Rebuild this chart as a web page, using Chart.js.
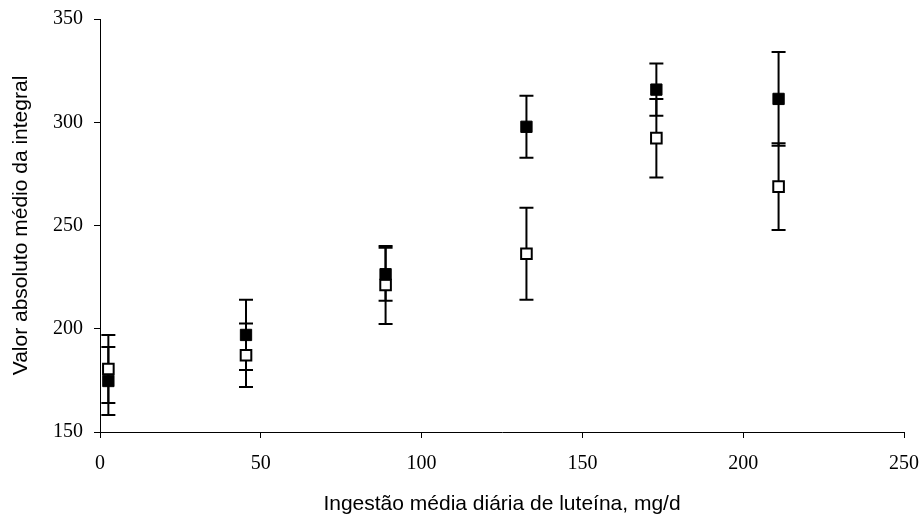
<!DOCTYPE html>
<html lang="pt">
<head>
    <meta charset="UTF-8">
    <title>Luteína - valor absoluto médio da integral</title>
    <script src="https://cdn.jsdelivr.net/npm/chart.js"></script>
    <style>
        body { margin: 0; background: #fff; }
        .wrap { width: 922px; height: 520px; }
    </style>
</head>
<body>
<div class="wrap"><canvas id="grafico" width="922" height="520"></canvas></div>

<script>
    // ingestão média diária (mg/d)
    const ingestao = [2.6, 45.4, 88.8, 132.6, 173, 211];

    // série com quadrados cheios
    const mediaCheio = [174.7, 197, 226.4, 297.8, 315.8, 311.3];
    const erroCheio  = [16.5, 17, 12.8, 15, 12.6, 22.7];

    // série com quadrados vazios
    const mediaVazio = [180.5, 187.2, 221.2, 236.3, 292.3, 268.8];
    const erroVazio  = [16.5, 15.4, 18.9, 22.3, 19, 21];

    const ticksX = [0, 50, 100, 150, 200, 250];
    const ticksY = [150, 200, 250, 300, 350];

    const pontos = (ys) => ingestao.map((x, i) => ({ x: x, y: ys[i] }));

    // barras de erro desenhadas antes dos marcadores
    const barrasErro = {
        id: 'barrasErro',
        beforeDatasetsDraw(chart) {
            const ctx = chart.ctx;
            const sx = chart.scales.x, sy = chart.scales.y;
            const series = [[mediaCheio, erroCheio], [mediaVazio, erroVazio]];
            ctx.save();
            ctx.strokeStyle = '#000';
            ctx.lineWidth = 2;
            series.forEach(([m, e]) => {
                ingestao.forEach((x, i) => {
                    const px = sx.getPixelForValue(x);
                    const top = sy.getPixelForValue(m[i] + e[i]);
                    const bot = sy.getPixelForValue(m[i] - e[i]);
                    ctx.beginPath();
                    ctx.moveTo(px, top); ctx.lineTo(px, bot);
                    ctx.moveTo(px - 7, top); ctx.lineTo(px + 7, top);
                    ctx.moveTo(px - 7, bot); ctx.lineTo(px + 7, bot);
                    ctx.stroke();
                });
            });
            ctx.restore();
        }
    };

    const fonteTicks = { family: '"Liberation Serif", "Times New Roman", serif', size: 20 };
    const fonteTitulo = { family: '"Liberation Sans", Arial, sans-serif', size: 21 };

    new Chart(document.getElementById('grafico').getContext('2d'), {
        type: 'scatter',
        data: {
            datasets: [
                {
                    label: 'cheio',
                    data: pontos(mediaCheio),
                    pointStyle: 'rect',
                    pointRadius: 8,
                    backgroundColor: '#000',
                    borderColor: '#000',
                    borderWidth: 1
                },
                {
                    label: 'vazio',
                    data: pontos(mediaVazio),
                    pointStyle: 'rect',
                    pointRadius: 7.5,
                    backgroundColor: '#fff',
                    borderColor: '#000',
                    borderWidth: 2
                }
            ]
        },
        options: {
            responsive: false,
            animation: false,
            layout: { padding: { top: 19, right: 18, left: 0, bottom: 0 } },
            plugins: { legend: { display: false }, tooltip: { enabled: false } },
            scales: {
                x: {
                    type: 'linear',
                    min: 0, max: 250,
                    afterBuildTicks: (s) => { s.ticks = ticksX.map(v => ({ value: v })); },
                    afterFit: (s) => { s.height = 88; s.paddingLeft = 0; s.paddingRight = 0; },
                    grid: { drawOnChartArea: false, drawTicks: true, tickLength: 6, color: '#000' },
                    border: { display: true, color: '#000', width: 1 },
                    ticks: { color: '#000', font: fonteTicks, padding: 14, maxRotation: 0 },
                    title: { display: true, text: 'Ingestão média diária de luteína, mg/d', color: '#000', font: fonteTitulo, padding: { top: 0, bottom: 3 } }
                },
                y: {
                    type: 'linear',
                    min: 150, max: 350,
                    afterBuildTicks: (s) => { s.ticks = ticksY.map(v => ({ value: v })); },
                    afterFit: (s) => { s.width = 100; s.paddingTop = 0; s.paddingBottom = 0; },
                    grid: { drawOnChartArea: false, drawTicks: true, tickLength: 6, color: '#000' },
                    border: { display: true, color: '#000', width: 1 },
                    ticks: { color: '#000', font: fonteTicks, padding: 11 },
                    title: { display: true, text: 'Valor absoluto médio da integral', color: '#000', font: fonteTitulo, padding: { top: 9, bottom: 0 } }
                }
            }
        },
        plugins: [barrasErro]
    });
</script>
</body>
</html>
